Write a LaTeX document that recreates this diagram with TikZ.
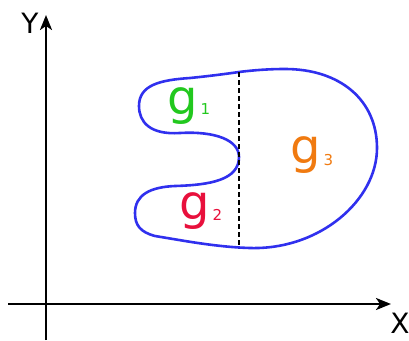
\documentclass[tikz,border=0pt]{standalone}
\usepackage{fontspec}
\setmainfont{DejaVu Sans}
\usetikzlibrary{arrows.meta}
\definecolor{gA}{HTML}{22C81E}
\definecolor{gB}{HTML}{E8103C}
\definecolor{gC}{HTML}{F07A10}
\definecolor{curveblue}{HTML}{3030EE}
\begin{document}
\begin{tikzpicture}[x=1pt,y=-1pt,
  axis/.style={line width=2.4pt,-{Stealth[length=15pt,width=12pt,inset=4pt]}},
  glabel/.style={inner sep=0pt,anchor=base west},
  axlabel/.style={inner sep=0pt,font=\fontsize{28}{28}\selectfont}]
\useasboundingbox (0,0) rectangle (409,340);
% axes
\coordinate (yb) at (46,340);
\coordinate (yt) at (46,15);
\coordinate (xl) at (8,304);
\coordinate (xr) at (391,304);
\draw[axis] (yb) -- (yt);
\draw[axis] (xl) -- (xr);
\node[axlabel] (ylab) at (30,23) {Y};
\node[axlabel] (xlab) at (400,323) {X};
% region outline
\draw[curveblue, line width=2.6pt]
 (239,72) .. controls (255,70) and (270,69) .. (285,69)
 .. controls (340,69) and (377,100) .. (377,148)
 .. controls (377,200) and (320,250) .. (250,248)
 .. controls (215,247) and (180,240) .. (155,236)
 .. controls (140,232) and (135,225) .. (135,213)
 .. controls (135,195) and (150,187) .. (175,186)
 .. controls (210,185) and (239,180) .. (239,157)
 .. controls (239,140) and (215,131) .. (180,133)
 .. controls (150,135) and (139,122) .. (139,106)
 .. controls (139,85) and (160,80) .. (190,78)
 .. controls (210,76) and (225,74) .. (239,72) -- cycle;
% divider
\coordinate (dt) at (239,72);
\coordinate (db) at (239,248);
\draw[line width=2.4pt, dash pattern=on 5pt off 3pt] (dt) -- (db);
% labels
\node[glabel, text=gA] (g1) at (167,114) {\fontsize{48}{48}\selectfont g\hspace{3pt}\raisebox{0pt}{\fontsize{15}{15}\selectfont 1}};
\node[glabel, text=gB] (g2) at (179,219) {\fontsize{48}{48}\selectfont g\hspace{3pt}\raisebox{-1pt}{\fontsize{15}{15}\selectfont 2}};
\node[glabel, text=gC] (g3) at (290,163) {\fontsize{48}{48}\selectfont g\hspace{3pt}\raisebox{-2pt}{\fontsize{15}{15}\selectfont 3}};
\end{tikzpicture}
\end{document}
